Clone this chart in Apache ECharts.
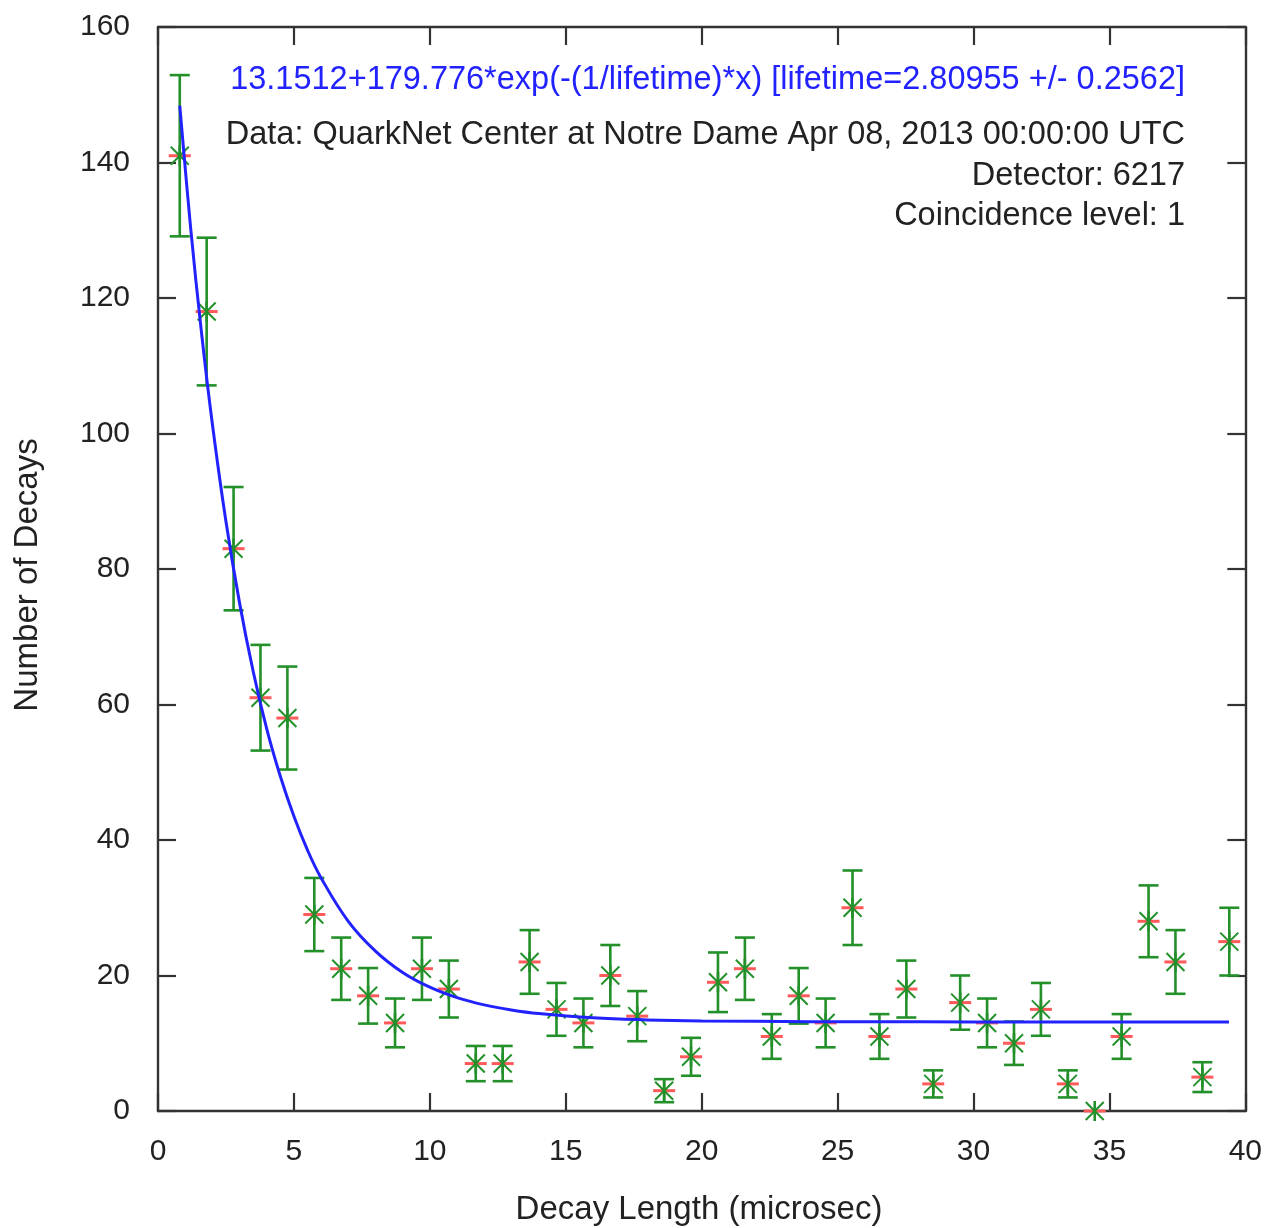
<!DOCTYPE html>
<html>
<head>
<meta charset="utf-8">
<script src="https://cdn.jsdelivr.net/npm/echarts@6/dist/echarts.min.js"></script>
<style>
html,body{margin:0;padding:0;background:#fff;}
#chart{width:1265px;height:1228px;}
</style>
</head>
<body>
<div id="chart"></div>
<script>
// Decay length bin centres (microsec)
const decayLength = [0.80, 1.79, 2.78, 3.77, 4.76, 5.75, 6.74, 7.73, 8.72, 9.71,
  10.70, 11.69, 12.68, 13.67, 14.66, 15.65, 16.64, 17.63, 18.62, 19.61,
  20.60, 21.59, 22.58, 23.57, 24.56, 25.55, 26.54, 27.53, 28.52, 29.51,
  30.50, 31.49, 32.48, 33.47, 34.46, 35.45, 36.44, 37.43, 38.42, 39.41];
// Number of decays per bin
const decays = [141, 118, 83, 61, 58, 29, 21, 17, 13, 21,
  18, 7, 7, 22, 15, 13, 20, 14, 3, 8,
  19, 21, 11, 17, 13, 30, 11, 18, 4, 16,
  13, 10, 15, 4, 0, 11, 28, 22, 5, 25];
// Error bar half-heights
const errors = [11.9, 10.9, 9.1, 7.8, 7.6, 5.4, 4.6, 4.1, 3.6, 4.6,
  4.2, 2.6, 2.6, 4.7, 3.9, 3.6, 4.5, 3.7, 1.7, 2.8,
  4.4, 4.6, 3.3, 4.1, 3.6, 5.5, 3.3, 4.2, 2.0, 4.0,
  3.6, 3.2, 3.9, 2.0, 0, 3.3, 5.3, 4.7, 2.2, 5.0];
// Fit curve points
const fitX = [0.8, 1.2, 1.6, 2.0, 2.5, 3.0, 3.5, 4.0, 4.5, 5.0, 5.5, 6.0, 7.0, 8.0, 9.0,
  10, 11, 12, 13, 14, 16, 18, 20, 24, 28, 32, 36, 39.4];
const fitY = [148.4, 130.4, 114.9, 101.4, 87.0, 75.0, 64.9, 56.4, 49.4, 43.5, 38.5, 34.4, 28.0, 23.6, 20.45,
  18.27, 16.73, 15.66, 14.91, 14.38, 13.75, 13.45, 13.30, 13.19, 13.16, 13.15, 13.15, 13.15];
// Tick settings
const xTicks = {min: 0, max: 40, interval: 5};
const yTicks = {min: 0, max: 160, interval: 20};
// Texts
const fitText = '13.1512+179.776*exp(-(1/lifetime)*x) [lifetime=2.80955 +/- 0.2562]';
const infoLines = ['Data: QuarkNet Center at Notre Dame Apr 08, 2013 00:00:00 UTC', 'Detector: 6217', 'Coincidence level: 1'];
const xName = 'Decay Length (microsec)';
const yName = 'Number of Decays';

const FONT = '"Liberation Sans", Arial, Helvetica, sans-serif';
const GREEN = '#23902a';
const RED = '#ff5a5a';
const BLUE = '#2222ff';
const AXIS = '#333';

const pts = decayLength.map((x, i) => [x, decays[i], errors[i]]);
const fit = fitX.map((x, i) => [x, fitY[i]]);

function renderItem(params, api) {
  const x = api.value(0), y = api.value(1), e = api.value(2);
  const c = api.coord([x, y]);
  const t = api.coord([x, y + e]);
  const b = api.coord([x, y - e]);
  const m = 9, cap = 10;
  const gs = {stroke: GREEN, lineWidth: 2.6, fill: null};
  const children = [];
  children.push({type: 'line', shape: {x1: c[0] - m - 2, y1: c[1], x2: c[0] + m + 2, y2: c[1]}, style: {stroke: RED, lineWidth: 3}});
  if (e > 0) {
    children.push({type: 'line', shape: {x1: c[0], y1: t[1], x2: c[0], y2: b[1]}, style: gs});
    children.push({type: 'line', shape: {x1: c[0] - cap, y1: t[1], x2: c[0] + cap, y2: t[1]}, style: gs});
    children.push({type: 'line', shape: {x1: c[0] - cap, y1: b[1], x2: c[0] + cap, y2: b[1]}, style: gs});
  }
  children.push({type: 'line', shape: {x1: c[0] - m, y1: c[1] - m, x2: c[0] + m, y2: c[1] + m}, style: {stroke: GREEN, lineWidth: 2}});
  children.push({type: 'line', shape: {x1: c[0] - m, y1: c[1] + m, x2: c[0] + m, y2: c[1] - m}, style: {stroke: GREEN, lineWidth: 2}});
  children.push({type: 'line', shape: {x1: c[0], y1: c[1] - m - 1, x2: c[0], y2: c[1] + m + 1}, style: {stroke: GREEN, lineWidth: 2.6}});
  return {type: 'group', children};
}

const axisCommon = {
  axisLine: {show: true, onZero: false, lineStyle: {color: AXIS, width: 2.4}},
  axisTick: {show: true, inside: true, length: 18, lineStyle: {color: AXIS, width: 2.2}},
  splitLine: {show: false}
};

const TXT = '32.5px ' + FONT;
const NAMEF = '33px ' + FONT;

const chart = echarts.init(document.getElementById('chart'), null, {renderer: 'canvas'});
chart.setOption({
  backgroundColor: '#fff',
  animation: false,
  grid: {left: 158, top: 27, width: 1090, height: 1084, containLabel: false},
  xAxis: [
    Object.assign({type: 'value', position: 'bottom', min: xTicks.min, max: xTicks.max, interval: xTicks.interval,
      axisLabel: {show: true, margin: 26, fontSize: 30, fontFamily: FONT, color: '#222'}}, axisCommon),
    Object.assign({type: 'value', position: 'top', min: xTicks.min, max: xTicks.max, interval: xTicks.interval,
      axisLabel: {show: false}}, axisCommon)
  ],
  yAxis: [
    Object.assign({type: 'value', position: 'left', min: yTicks.min, max: yTicks.max, interval: yTicks.interval,
      axisLabel: {show: true, margin: 28, fontSize: 30, fontFamily: FONT, color: '#222'}}, axisCommon),
    Object.assign({type: 'value', position: 'right', min: yTicks.min, max: yTicks.max, interval: yTicks.interval,
      axisLabel: {show: false}}, axisCommon)
  ],
  series: [
    {type: 'custom', renderItem: renderItem, data: pts, clip: false, z: 3,
      encode: {x: 0, y: 1}},
    {type: 'line', data: fit, smooth: 0.4, showSymbol: false, symbol: 'none', z: 4,
      lineStyle: {color: BLUE, width: 3}}
  ],
  graphic: [
    {type: 'text', x: 1185, y: 80, style: {text: fitText, fill: BLUE, font: TXT, align: 'right', textAlign: 'right', verticalAlign: 'middle', textVerticalAlign: 'middle'}},
    {type: 'text', x: 1185, y: 135, style: {text: infoLines[0], fill: '#222', font: TXT, align: 'right', textAlign: 'right', verticalAlign: 'middle', textVerticalAlign: 'middle'}},
    {type: 'text', x: 1185, y: 176, style: {text: infoLines[1], fill: '#222', font: TXT, align: 'right', textAlign: 'right', verticalAlign: 'middle', textVerticalAlign: 'middle'}},
    {type: 'text', x: 1185, y: 216, style: {text: infoLines[2], fill: '#222', font: TXT, align: 'right', textAlign: 'right', verticalAlign: 'middle', textVerticalAlign: 'middle'}},
    {type: 'text', x: 699, y: 1210, style: {text: xName, fill: '#222', font: NAMEF, align: 'center', textAlign: 'center', verticalAlign: 'middle', textVerticalAlign: 'middle'}},
    {type: 'text', x: 28, y: 575, rotation: Math.PI / 2, style: {text: yName, fill: '#222', font: NAMEF, align: 'center', textAlign: 'center', verticalAlign: 'middle', textVerticalAlign: 'middle'}}
  ]
});
</script>
</body>
</html>
